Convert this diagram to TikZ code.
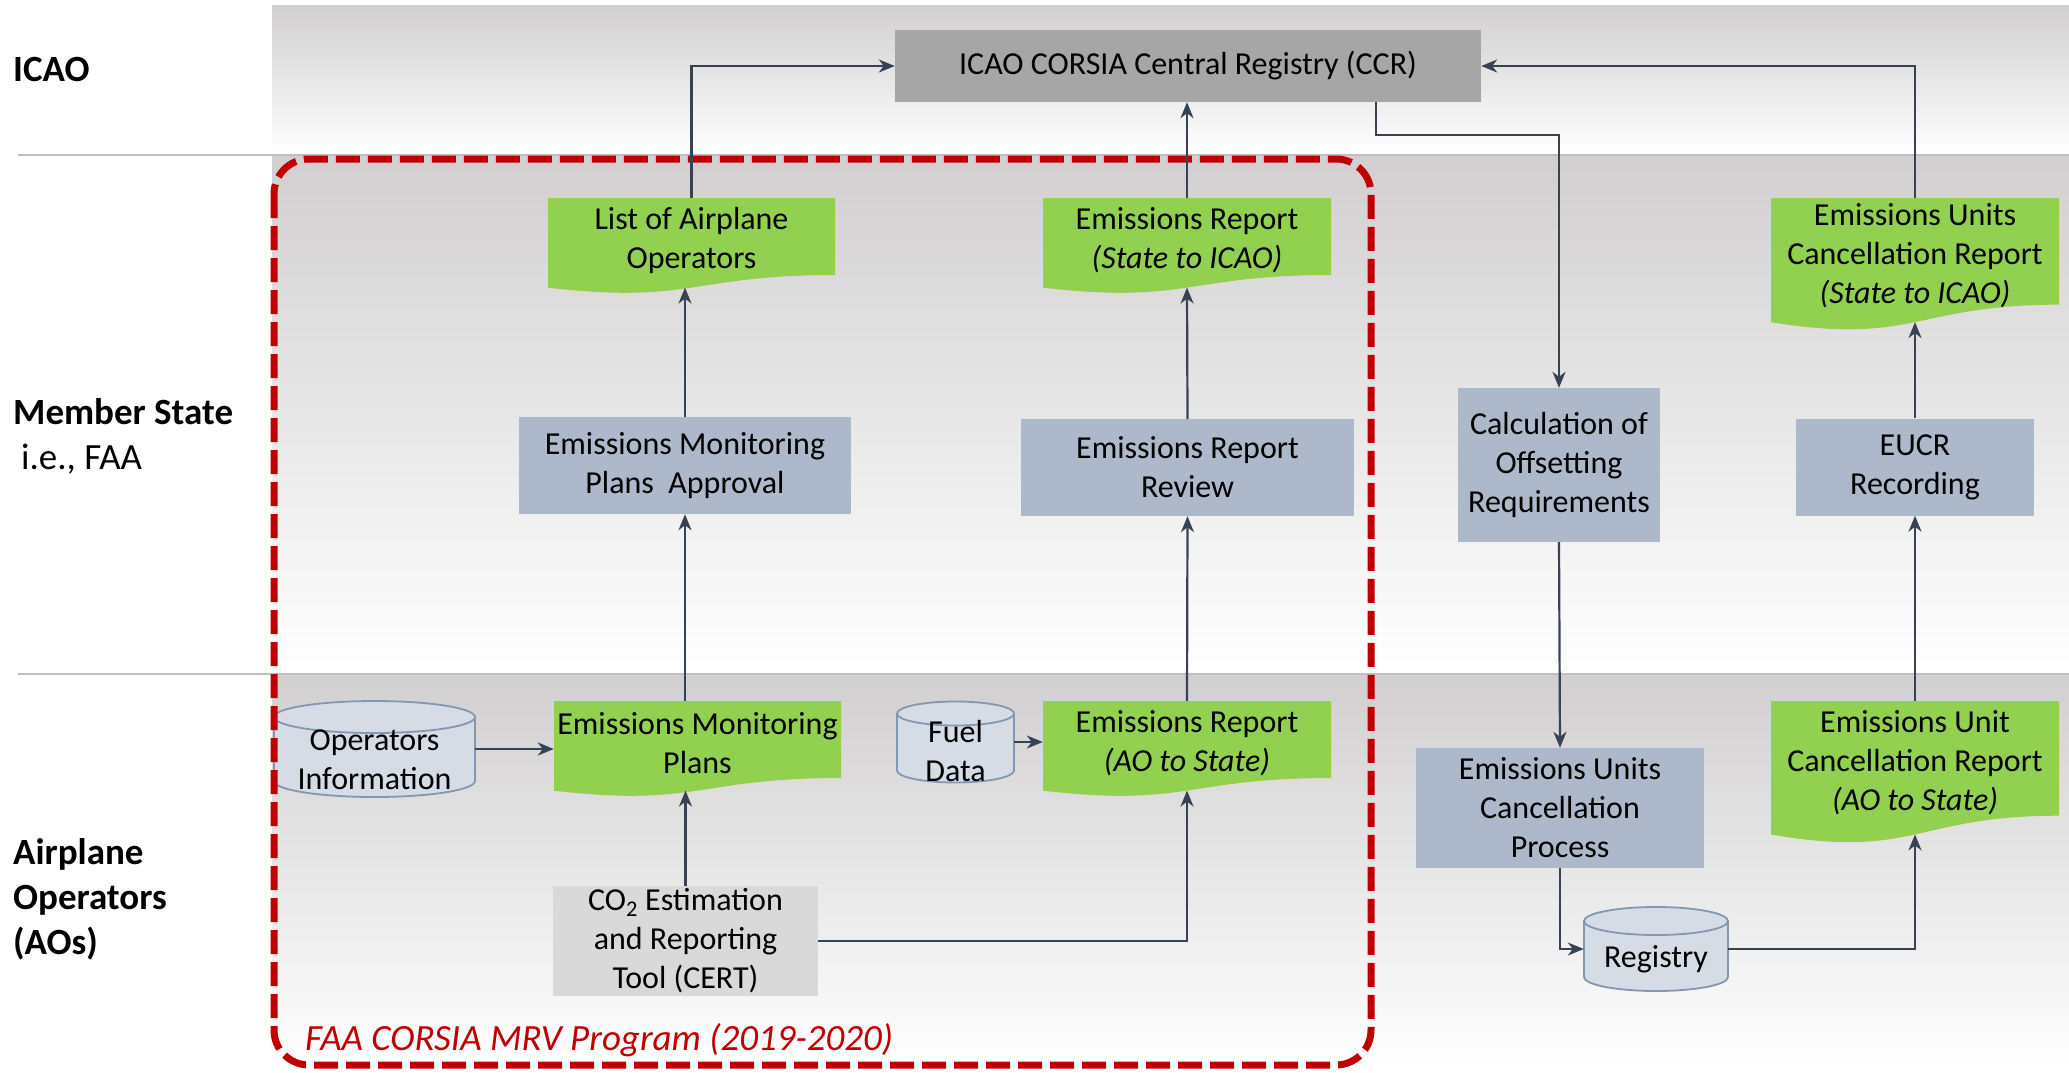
\documentclass[tikz,border=0pt]{standalone}
\usepackage{fontspec}
\setmainfont{Carlito}
\usepackage{tikz}
\usetikzlibrary{arrows.meta, calc}
\definecolor{lanegray}{RGB}{209,207,208}
\definecolor{sepgray}{RGB}{191,191,191}
\definecolor{ccrgray}{RGB}{166,166,166}
\definecolor{procblue}{RGB}{173,185,202}
\definecolor{docgreen}{RGB}{146,208,80}
\definecolor{certgray}{RGB}{217,217,217}
\definecolor{storefill}{RGB}{214,220,229}
\definecolor{storeedge}{RGB}{132,151,176}
\definecolor{flowgray}{RGB}{55,67,84}
\definecolor{mrvred}{RGB}{192,0,0}
\newcommand{\boxfont}{\fontsize{32}{39}\selectfont}
\newcommand{\lanefont}{\fontsize{37}{45}\selectfont}
\tikzset{>={Stealth[length=16pt,width=13pt,inset=5pt]}}
\tikzset{
  box/.style={rectangle, inner sep=0pt, align=center, font=\boxfont},
  procbox/.style={box, fill=procblue},
  store/.style={draw=storeedge, fill=storefill, line width=1.8pt},
  flow/.style={->, draw=flowgray, line width=2.2pt},
  sepline/.style={draw=sepgray, line width=2.5pt},
  lanelabel/.style={anchor=west, align=left, inner sep=0pt, font=\lanefont},
}
% green document with a wavy bottom: name, left, top, width, height, text
\newcommand{\docnode}[6]{%
  \fill[docgreen] (#2,#3) -- (#2+#4,#3) -- (#2+#4,#3+0.802*#5)
    .. controls (#2+0.5*#4,#3+0.802*#5) and (#2+0.5*#4,#3+1.1075*#5) .. (#2,#3+0.934*#5) -- cycle;
  \node[box, minimum width=#4pt, minimum height=0.802*#5pt] (#1) at (#2+0.5*#4,#3+0.401*#5) {};
  \node[box] (#1-t) at (#2+0.5*#4,#3+0.401*#5+4) {#6};
  \coordinate (#1-b) at (#2+0.5*#4,#3+0.933*#5);
}
% data store drum: name, centre x, centre y, width, height, lid radius, text
\newcommand{\storenode}[7]{%
  \filldraw[store] (#2-0.5*#4,#3-0.5*#5+#6) -- (#2-0.5*#4,#3+0.5*#5-#6)
    arc[start angle=180, end angle=360, x radius=0.5*#4pt, y radius=#6pt]
    -- (#2+0.5*#4,#3-0.5*#5+#6)
    arc[start angle=0, end angle=180, x radius=0.5*#4pt, y radius=#6pt] -- cycle;
  \draw[store, fill=none] (#2-0.5*#4,#3-0.5*#5+#6)
    arc[start angle=180, end angle=360, x radius=0.5*#4pt, y radius=#6pt];
  \node[box, minimum width=#4pt, minimum height=#5pt] (#1) at (#2,#3) {};
  \node[box] (#1-t) at (#2,#3+0.5*#6+3) {#7};
}

\begin{document}
\begin{tikzpicture}[x=1pt, y=-1pt]
\useasboundingbox (0,0) rectangle (2069,1072);
% swim lanes
\shade[top color=lanegray, bottom color=white] (272,5) rectangle (2069,154);
\shade[top color=lanegray, bottom color=white] (272,155) rectangle (2069,674);
\shade[top color=lanegray, bottom color=white] (272,675) rectangle (2069,1068);
\draw[sepline] (18,155) -- (2069,155);
\draw[sepline] (18,674) -- (2069,674);
\node[lanelabel] (icao) at (13,69) {\bfseries ICAO};
\node[lanelabel] (state) at (13,436) {\bfseries Member State\\\hspace*{8pt}i.e., FAA};
\node[lanelabel] (aos) at (13,899) {\bfseries Airplane\\\bfseries Operators\\\bfseries (AOs)};

% ICAO
\node[box, fill=ccrgray, minimum width=586pt, minimum height=72pt] (ccr) at (1188,66) {\raisebox{-3pt}{ICAO CORSIA Central Registry (CCR)}};

% member state
\docnode{lao}{548}{198}{287}{96}{List of Airplane\\Operators}
\docnode{ers}{1043}{198}{288}{96}{Emissions Report\\\textit{(State to ICAO)}}
\docnode{eucrs}{1771}{198}{288}{133}{Emissions Units\\Cancellation Report\\\textit{(State to ICAO)}}
\node[procbox, minimum width=332pt, minimum height=97pt] (empa) at (685,465.5) {Emissions Monitoring\\Plans~ Approval};
\node[procbox, minimum width=333pt, minimum height=97pt] (err) at (1187.5,467.5) {Emissions Report\\Review};
\node[procbox, minimum width=202pt, minimum height=154pt] (calc) at (1559,465) {Calculation of\\Offsetting\\Requirements};
\node[procbox, minimum width=238pt, minimum height=97pt] (eucrr) at (1915,467) {EUCR\\Recording};

% airplane operators
\storenode{opinfo}{374.5}{749}{201}{96}{16}{Operators\\Information}
\docnode{emp}{554}{701}{287}{96}{Emissions Monitoring\\Plans}
\storenode{fuel}{955.5}{742}{117}{81}{12}{Fuel\\Data}
\docnode{era}{1043}{701}{288}{96}{Emissions Report\\\textit{(AO to State)}}
\node[box, fill=certgray, minimum width=265pt, minimum height=110pt] (cert) at (685.5,941) {CO\textsubscript{2} Estimation\\and Reporting\\Tool (CERT)};
\node[procbox, minimum width=288pt, minimum height=120pt] (eucp) at (1560,808) {Emissions Units\\Cancellation\\Process};
\storenode{reg}{1656}{949}{144}{84}{14}{Registry}
\docnode{eucra}{1771}{701}{288}{143}{Emissions Unit\\Cancellation Report\\\textit{(AO to State)}}

% FAA program frame
\draw[mrvred, line width=7pt, dash pattern=on 24pt off 8pt, rounded corners=35pt] (274,159) rectangle (1371,1065);
\node[anchor=west, inner sep=0pt, text=mrvred, font=\fontsize{37}{44}\selectfont\itshape] (mrv) at (305,1040) {FAA CORSIA MRV Program (2019-2020)};

% flows
\draw[flow] (lao.north) |- (ccr.west);
\draw[flow] (ers.north) -- (ers.north |- ccr.south);
\draw[flow] ([xshift=-105pt]ccr.south east) -- ++(0,33) -| (calc.north);
\draw[flow] (eucrs.north) |- (ccr.east);
\draw[flow] (empa.north) -- (empa.north |- lao-b);
\draw[flow] (err.north) -- (ers-b);
\draw[flow] (eucrr.north) -- (eucrs-b);
\draw[flow] (emp.north -| empa.south) -- (empa.south);
\draw[flow] (era.north) -- (err.south);
\draw[flow] (eucra.north) -- (eucrr.south);
\draw[flow] (calc.south) -- (eucp.north);
\draw[flow] (opinfo.east) -- (opinfo.east -| emp.west);
\draw[flow] (fuel.east) -- (fuel.east -| era.west);
\draw[flow] (cert.north) -- (cert.north |- emp-b);
\draw[flow] (cert.east) -| (era-b);
\draw[flow] (eucp.south) |- (reg.west);
\draw[flow] (reg.east) -| (eucra-b);
\end{tikzpicture}
\end{document}
